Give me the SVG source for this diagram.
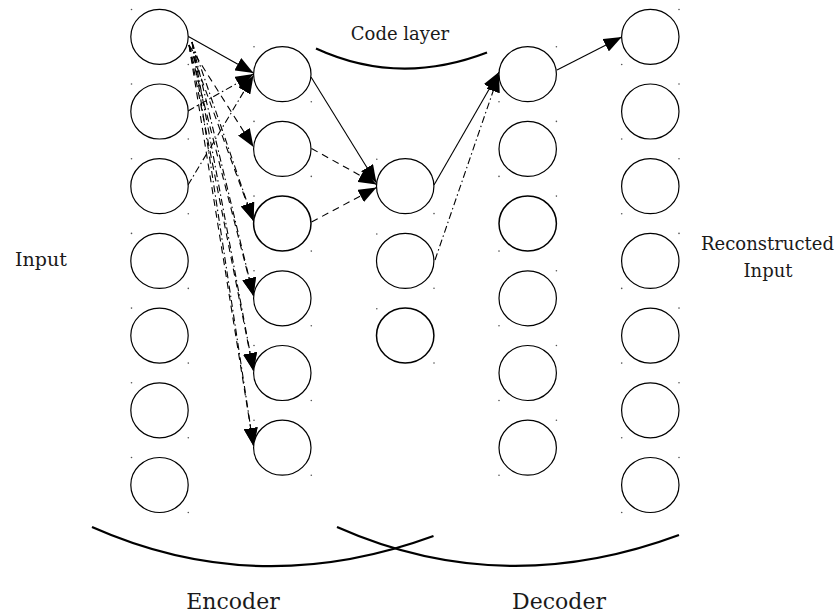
<svg xmlns="http://www.w3.org/2000/svg" width="835" height="615" viewBox="0 0 835 615">
  <style>
    .unit { fill: #fff; stroke: #000; stroke-width: 1.2; }
    .unit.heavy { stroke-width: 1.5; }
    .dot { fill: #555; }
    .edge { fill: none; stroke: #000; stroke-width: 1.1; marker-end: url(#head); }
    .dash { stroke-dasharray: 7 5; }
    .dashdot { stroke-dasharray: 7 3 1.5 3; }
    .brace { fill: none; stroke: #000; stroke-width: 2.2; }
    .label { font-family: "DejaVu Serif", "Liberation Serif", serif; fill: #1a1a1a; }
  </style>
  <defs>
    <marker id="head" markerUnits="userSpaceOnUse" markerWidth="18" markerHeight="14" refX="18" refY="7" orient="auto">
      <path d="M0,0 L18,7 L0,14 z" fill="#000"/>
    </marker>
    <ellipse id="u" rx="28.7" ry="27.5"/>
  </defs>
  <rect width="835" height="615" fill="#fff"/>

  <!-- braces -->
  <g id="braces">
    <path class="brace" d="M316,48.5 Q398.5,86.5 487,52.5"/>
    <path class="brace" d="M92,527 Q257.5,600.5 433.5,536"/>
    <path class="brace" d="M337,527 Q502.5,600.5 679,535"/>
  </g>

  <!-- connectors -->
  <g id="connectors">
    <!-- input layer to first hidden layer -->
    <path class="edge" d="M187.5,36 L253.5,73"/>
    <path class="edge dashdot" d="M188,111 L253.5,74"/>
    <path class="edge dashdot" d="M188,185 L253.5,75.5"/>
    <path class="edge dash" d="M189,45 L253.5,147"/>
    <path class="edge dash" d="M189,45 L253.5,221"/>
    <path class="edge dash" d="M189,45 L253.5,296"/>
    <path class="edge dash" d="M189,45 L253.5,371"/>
    <path class="edge dash" d="M189,45 L253.5,446"/>
    <path class="edge dashdot" d="M192,42 L253.5,221"/>
    <path class="edge dashdot" d="M192,42 L253.5,296"/>
    <path class="edge dashdot" d="M192,42 L253.5,371"/>
    <path class="edge dashdot" d="M192,42 L253.5,446"/>
    <!-- first hidden layer to code layer -->
    <path class="edge" d="M311,77 L376.5,183"/>
    <path class="edge dash" d="M311.5,148.5 L376.5,184.5"/>
    <path class="edge dash" d="M311.5,222 L376.5,187.5"/>
    <!-- code layer to decoder -->
    <path class="edge" d="M434,185 L499,72"/>
    <path class="edge dashdot" d="M435,260 L499,74"/>
    <!-- decoder to reconstruction -->
    <path class="edge" d="M557,70 L621.7,37"/>
  </g>

  <!-- input layer -->
  <g id="input-layer">
    <g id="x1"><use href="#u" class="unit" x="159.5" y="36.8"/><circle class="dot" cx="131.5" cy="9.5" r="0.8"/><circle class="dot" cx="188.3" cy="64.5" r="0.8"/></g>
    <g id="x2"><use href="#u" class="unit" x="159.5" y="111.5"/><circle class="dot" cx="131.5" cy="84" r="0.8"/><circle class="dot" cx="188.3" cy="139" r="0.8"/></g>
    <g id="x3"><use href="#u" class="unit" x="159.5" y="186.2"/><circle class="dot" cx="131.5" cy="158.7" r="0.8"/><circle class="dot" cx="188.3" cy="213.7" r="0.8"/></g>
    <g id="x4"><use href="#u" class="unit" x="159.5" y="260.9"/><circle class="dot" cx="131.5" cy="233.4" r="0.8"/><circle class="dot" cx="188.3" cy="288.4" r="0.8"/></g>
    <g id="x5"><use href="#u" class="unit" x="159.5" y="335.6"/><circle class="dot" cx="131.5" cy="308.1" r="0.8"/><circle class="dot" cx="188.3" cy="363.1" r="0.8"/></g>
    <g id="x6"><use href="#u" class="unit" x="159.5" y="410.3"/><circle class="dot" cx="131.5" cy="382.8" r="0.8"/><circle class="dot" cx="188.3" cy="437.8" r="0.8"/></g>
    <g id="x7"><use href="#u" class="unit" x="159.5" y="485"/><circle class="dot" cx="131.5" cy="457.5" r="0.8"/><circle class="dot" cx="188.3" cy="512.5" r="0.8"/></g>
  </g>

  <!-- encoder hidden layer -->
  <g id="encoder-layer">
    <g id="h1"><use href="#u" class="unit" x="282.3" y="74.2"/><circle class="dot" cx="254" cy="46.7" r="0.8"/><circle class="dot" cx="311.3" cy="101.7" r="0.8"/></g>
    <g id="h2"><use href="#u" class="unit" x="282.3" y="148.9"/><circle class="dot" cx="254" cy="121.4" r="0.8"/><circle class="dot" cx="311.3" cy="176.4" r="0.8"/></g>
    <g id="h3"><use href="#u" class="unit heavy" x="282.3" y="223.6"/><circle class="dot" cx="254" cy="196.1" r="0.8"/><circle class="dot" cx="311.3" cy="251.1" r="0.8"/></g>
    <g id="h4"><use href="#u" class="unit" x="282.3" y="298.3"/><circle class="dot" cx="254" cy="270.8" r="0.8"/><circle class="dot" cx="311.3" cy="325.8" r="0.8"/></g>
    <g id="h5"><use href="#u" class="unit" x="282.3" y="373"/><circle class="dot" cx="254" cy="345.5" r="0.8"/><circle class="dot" cx="311.3" cy="400.5" r="0.8"/></g>
    <g id="h6"><use href="#u" class="unit" x="282.3" y="447.7"/><circle class="dot" cx="254" cy="420.2" r="0.8"/><circle class="dot" cx="311.3" cy="475.2" r="0.8"/></g>
  </g>

  <!-- code layer -->
  <g id="code-layer">
    <g id="z1"><use href="#u" class="unit" x="405.2" y="186.2"/><circle class="dot" cx="376.8" cy="159.3" r="0.8"/><circle class="dot" cx="434" cy="213.6" r="0.8"/></g>
    <g id="z2"><use href="#u" class="unit" x="405.2" y="260.9"/><circle class="dot" cx="376.8" cy="234" r="0.8"/><circle class="dot" cx="434" cy="288.3" r="0.8"/></g>
    <g id="z3"><use href="#u" class="unit heavy" x="405.2" y="335.6"/><circle class="dot" cx="376.8" cy="308.7" r="0.8"/><circle class="dot" cx="434" cy="363" r="0.8"/></g>
  </g>

  <!-- decoder hidden layer -->
  <g id="decoder-layer">
    <g id="d1"><use href="#u" class="unit" x="527.7" y="74.2"/><circle class="dot" cx="556.4" cy="46.7" r="0.8"/><circle class="dot" cx="499" cy="101.7" r="0.8"/></g>
    <g id="d2"><use href="#u" class="unit" x="527.7" y="148.9"/><circle class="dot" cx="556.4" cy="121.4" r="0.8"/><circle class="dot" cx="499" cy="176.4" r="0.8"/></g>
    <g id="d3"><use href="#u" class="unit heavy" x="527.7" y="223.6"/><circle class="dot" cx="556.4" cy="196.1" r="0.8"/><circle class="dot" cx="499" cy="251.1" r="0.8"/></g>
    <g id="d4"><use href="#u" class="unit" x="527.7" y="298.3"/><circle class="dot" cx="556.4" cy="270.8" r="0.8"/><circle class="dot" cx="499" cy="325.8" r="0.8"/></g>
    <g id="d5"><use href="#u" class="unit" x="527.7" y="373"/><circle class="dot" cx="556.4" cy="345.5" r="0.8"/><circle class="dot" cx="499" cy="400.5" r="0.8"/></g>
    <g id="d6"><use href="#u" class="unit" x="527.7" y="447.7"/><circle class="dot" cx="556.4" cy="420.2" r="0.8"/><circle class="dot" cx="499" cy="475.2" r="0.8"/></g>
  </g>

  <!-- reconstruction layer -->
  <g id="output-layer">
    <g id="y1"><use href="#u" class="unit" x="650.3" y="36.8"/><circle class="dot" cx="679" cy="9.5" r="0.8"/><circle class="dot" cx="621.7" cy="64.5" r="0.8"/></g>
    <g id="y2"><use href="#u" class="unit" x="650.3" y="111.5"/><circle class="dot" cx="679" cy="84" r="0.8"/><circle class="dot" cx="621.7" cy="139" r="0.8"/></g>
    <g id="y3"><use href="#u" class="unit" x="650.3" y="186.2"/><circle class="dot" cx="679" cy="158.7" r="0.8"/><circle class="dot" cx="621.7" cy="213.7" r="0.8"/></g>
    <g id="y4"><use href="#u" class="unit" x="650.3" y="260.9"/><circle class="dot" cx="679" cy="233.4" r="0.8"/><circle class="dot" cx="621.7" cy="288.4" r="0.8"/></g>
    <g id="y5"><use href="#u" class="unit" x="650.3" y="335.6"/><circle class="dot" cx="679" cy="308.1" r="0.8"/><circle class="dot" cx="621.7" cy="363.1" r="0.8"/></g>
    <g id="y6"><use href="#u" class="unit" x="650.3" y="410.3"/><circle class="dot" cx="679" cy="382.8" r="0.8"/><circle class="dot" cx="621.7" cy="437.8" r="0.8"/></g>
    <g id="y7"><use href="#u" class="unit" x="650.3" y="485"/><circle class="dot" cx="679" cy="457.5" r="0.8"/><circle class="dot" cx="621.7" cy="512.5" r="0.8"/></g>
  </g>

  <!-- labels -->
  <g id="labels" text-anchor="middle">
    <text class="label" x="400" y="40" font-size="18">Code layer</text>
    <text class="label" x="41" y="266" font-size="19">Input</text>
    <text class="label" x="767.5" y="250" font-size="18">Reconstructed</text>
    <text class="label" x="768" y="277" font-size="18">Input</text>
    <text class="label" x="233" y="609" font-size="22">Encoder</text>
    <text class="label" x="559" y="609" font-size="22">Decoder</text>
  </g>
</svg>
